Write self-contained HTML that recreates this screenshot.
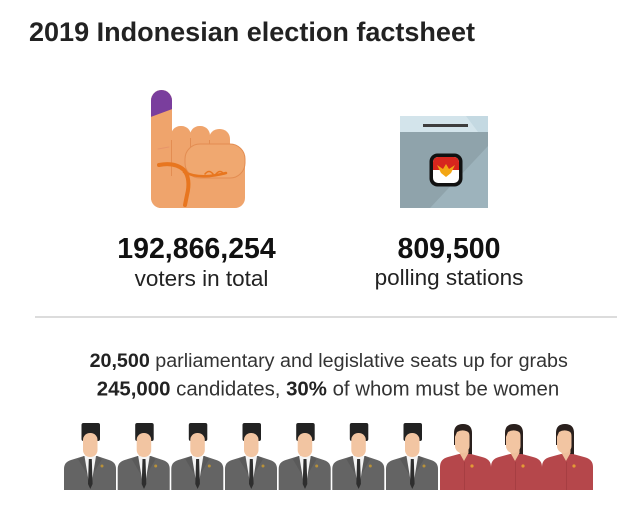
<!DOCTYPE html>
<html><head><meta charset="utf-8"><style>
html,body{margin:0;padding:0;background:#fff;}
svg{display:block;}
text{font-family:"Liberation Sans",Arial,sans-serif;}
</style></head><body>
<svg width="617" height="509" viewBox="0 0 617 509" xmlns="http://www.w3.org/2000/svg">
<defs>
 <clipPath id="idx"><rect x="151" y="90" width="21" height="118" rx="10.5"/></clipPath>
 <clipPath id="logoc"><rect x="433" y="157" width="26" height="26" rx="5"/></clipPath>
 <g id="man">
  <path d="M0,490 V469 Q0,462 7,460 L20,456 H33 L45,460 Q52,462 52,469 V490 Z" fill="#646464"/>
  <path d="M14,459 L24,476 L20,456 Z" fill="#5a5a5a"/>
  <path d="M38,459 L28,476 L33,456 Z" fill="#5a5a5a"/>
  <rect x="21.5" y="448" width="9" height="9" fill="#e9b48f"/>
  <path d="M20.5,456 H32 L27.8,482 H24.8 Z" fill="#f4f4f4"/>
  <path d="M24.8,459 H27.8 L28.6,484 L26.3,489 L24,484 Z" fill="#2e2e2e"/>
  <rect x="17.5" y="423" width="18.5" height="18" rx="2" fill="#222"/>
  <rect x="19" y="433" width="14.5" height="24" rx="7" fill="#f2c5a2"/>
  <circle cx="38" cy="466" r="1.5" fill="#b8913a"/>
 </g>
 <g id="woman">
  <path d="M14,433 Q14,424 23,424 Q32,424 32,433 V456 Q32,459 29,459 H26 V445 H14 Z" fill="#2a201d"/>
  <path d="M0,490 V467 Q0,459 8,457 L19,454 H31 L42,457 Q51,459 51,467 V490 Z" fill="#b5474b"/>
  <path d="M19.5,447 H28.5 V453 L24,461 L19.5,453 Z" fill="#efbf9c"/>
  <rect x="15" y="429" width="14.5" height="24" rx="7" fill="#f2c5a2"/>
  <path d="M14.5,438 Q14,425 23,425 Q31,425 31,434 Q24,428 17,432 Z" fill="#2a201d"/>
  <path d="M24.5,462 V490" stroke="#a33d41" stroke-width="0.8"/>
  <circle cx="32" cy="466" r="1.6" fill="#e39a36"/>
 </g>
</defs>

<text x="29" y="41" font-size="27" font-weight="bold" fill="#222" textLength="446" lengthAdjust="spacingAndGlyphs">2019 Indonesian election factsheet</text>

<!-- hand -->
<g fill="#efa46c">
 <rect x="151" y="90" width="21" height="118" rx="10.5"/>
 <rect x="171" y="126" width="20" height="50" rx="9.5"/>
 <rect x="190" y="126" width="20" height="50" rx="9.5"/>
 <rect x="209" y="129" width="21" height="50" rx="10"/>
 <rect x="151" y="150" width="94" height="58" rx="10"/>
</g>
<g fill="none" stroke="#e38d52" stroke-width="1">
 <path d="M171.5,176 V140"/><path d="M190.5,160 V138"/><path d="M209.5,160 V140"/>
</g>
<rect x="185" y="144" width="60" height="34" rx="15" fill="#f0a870" stroke="#e38d52" stroke-width="1"/>
<polygon points="148,86 175,86 175,108 148,118" fill="#7a3e9d" clip-path="url(#idx)"/>
<g fill="none" stroke="#e8761f" stroke-linecap="round">
 <path d="M159,165 Q175,162 184,170 Q191,179 187,195 L185,205" stroke-width="4"/>
 <path d="M184,172 Q200,180 226,173" stroke-width="2.5"/>
 <path d="M205,174 q4,-5 8,0 M216,174 q4,-5 8,0" stroke-width="1.5"/>
 <path d="M158,149 L169,147" stroke-width="1" stroke="#e8956a"/>
</g>

<!-- ballot box -->
<rect x="400" y="116" width="88" height="16" fill="#d3e4eb"/>
<polygon points="466,116 488,116 488,132 478,132" fill="#c4d9e2"/>
<rect x="423" y="124" width="45" height="3" fill="#3d3d3d"/>
<rect x="400" y="132" width="88" height="76" fill="#8fa3ab"/>
<polygon points="430,208 488,208 488,146" fill="#9db3bc"/>
<rect x="429.5" y="153.5" width="33" height="33" rx="8" fill="#111"/>
<g clip-path="url(#logoc)">
 <rect x="433" y="157" width="26" height="26" fill="#fff"/>
 <rect x="433" y="157" width="26" height="13" fill="#d7261e"/>
</g>
<path d="M437,165 L443,169 L446,164 L449,169 L455,165 L451,173 L446,177 L441,173 Z" fill="#f3a614"/>

<text x="196.5" y="258" font-size="28.5" font-weight="bold" fill="#111" text-anchor="middle">192,866,254</text>
<text x="201.5" y="286" font-size="22.5" fill="#222" text-anchor="middle">voters in total</text>
<text x="449" y="258" font-size="28.5" font-weight="bold" fill="#111" text-anchor="middle">809,500</text>
<text x="449" y="285" font-size="22.5" fill="#222" text-anchor="middle">polling stations</text>

<rect x="35" y="316" width="582" height="2" fill="#dcdcdc"/>

<text x="328.7" y="367" font-size="19.7" fill="#333" text-anchor="middle"><tspan font-weight="bold" fill="#222">20,500</tspan> parliamentary and legislative seats up for grabs</text>
<text x="328" y="395.5" font-size="20.4" fill="#333" text-anchor="middle"><tspan font-weight="bold" fill="#222">245,000</tspan> candidates, <tspan font-weight="bold" fill="#222">30%</tspan> of whom must be women</text>

<use href="#man" x="64"/>
<use href="#man" x="117.7"/>
<use href="#man" x="171.3"/>
<use href="#man" x="225"/>
<use href="#man" x="278.7"/>
<use href="#man" x="332.3"/>
<use href="#man" x="386"/>
<use href="#woman" x="440"/>
<use href="#woman" x="491"/>
<use href="#woman" x="542"/>
</svg>
</body></html>
